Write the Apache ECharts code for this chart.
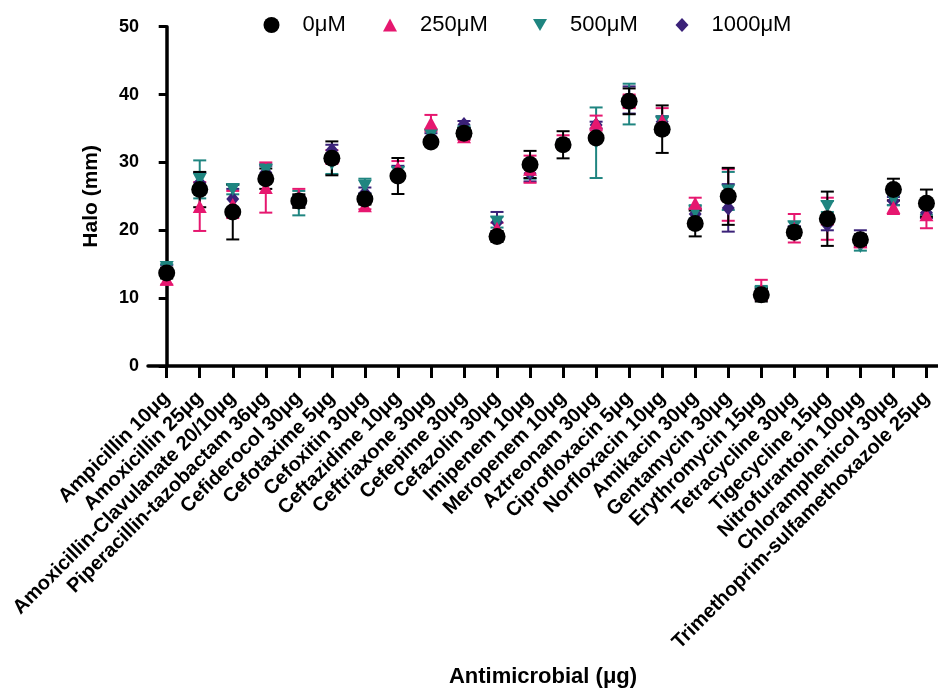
<!DOCTYPE html>
<html><head><meta charset="utf-8">
<script src="https://cdn.jsdelivr.net/npm/echarts@6/dist/echarts.min.js"></script>
<style>html,body{margin:0;padding:0;background:#fff}#c{width:938px;height:690px}</style>
</head><body><div id="c"></div>
<script>
const categories = ['Ampicillin 10μg','Amoxicillin 25μg','Amoxicillin-Clavulanate 20/10μg','Piperacillin-tazobactam 36μg','Cefiderocol 30μg','Cefotaxime 5μg','Cefoxitin 30μg','Ceftazidime 10μg','Ceftriaxone 30μg','Cefepime 30μg','Cefazolin 30μg','Imipenem 10μg','Meropenem 10μg','Aztreonam 30μg','Ciprofloxacin 5μg','Norfloxacin 10μg','Amikacin 30μg','Gentamycin 30μg','Erythromycin 15μg','Tetracycline 30μg','Tigecycline 15μg','Nitrofurantoin 100μg','Chloramphenicol 30μg','Trimethoprim-sulfamethoxazole 25μg'];
const seriesNames = ['0μM','250μM','500μM','1000μM'];
const mean0 = [13.7,26.0,22.7,27.6,24.3,30.6,24.6,28.0,33.0,34.3,19.1,29.7,32.6,33.6,39.0,34.9,21.0,25.0,10.5,19.7,21.7,18.6,26.0,24.0];
const sd0   = [0.8,2.6,4.05,1.5,1.0,2.5,0.8,2.65,0.6,0.8,0.8,2.0,2.0,0.5,1.9,3.5,1.9,4.2,1.0,0.8,4.0,0.8,1.6,2.0];
const mean250 = [12.8,23.5,23.8,26.3,25.0,30.8,23.6,29.2,35.8,33.8,20.3,29.0,33.0,35.8,39.0,36.2,24.0,25.2,11.2,20.3,21.7,18.3,23.4,22.3];
const sd250   = [0.8,3.6,2.0,3.7,1.1,1.0,0.5,1.0,1.2,0.5,0.8,2.0,1.0,1.1,1.0,1.8,0.8,3.8,1.5,2.1,3.1,0.8,1.0,2.0];
const mean500 = [14.5,27.5,26.0,28.8,24.0,29.8,26.5,28.5,34.0,34.5,21.2,28.6,32.5,32.9,38.6,35.8,22.7,25.8,10.8,20.5,23.5,17.6,24.5,23.3];
const sd500   = [0.5,2.8,0.7,1.0,1.8,1.5,1.1,0.8,0.8,0.5,0.8,1.0,0.5,5.2,3.0,1.0,1.0,2.8,1.0,0.8,0.8,0.6,0.8,1.0];
const mean1000 = [14.3,27.0,24.6,28.5,24.3,31.8,25.5,28.5,33.8,35.6,21.2,28.4,32.8,35.5,39.2,36.0,22.4,23.3,10.6,20.0,20.8,18.8,24.3,22.6];
const sd1000   = [0.6,1.5,1.5,1.0,0.8,0.8,0.8,1.0,0.5,0.5,1.5,1.2,0.6,0.5,2.0,0.8,0.8,3.5,0.8,0.6,0.8,1.2,0.6,0.8];
const yTicks = [0,10,20,30,40,50];

const FONT = '"Liberation Sans", Arial, Helvetica, sans-serif';
const colors = ['#000000','#e6176f','#1f8580','#3a2178'];
const symbols = ['circle','triangle','path://M0,0L20,0L10,17.3Z','diamond'];
const symSizes = [[17,17],[14,13],[14,13],[13,15]];
const legendSizes = [[16,16],[14,13],[14,13],[13,14]];
const means = [mean0, mean250, mean500, mean1000];
const sds = [sd0, sd250, sd500, sd1000];
const idx = categories.map((_, i) => i);

function errRender(color) {
  return function (params, api) {
    const x = api.value(0), m = api.value(1), s = api.value(2);
    const top = api.coord([x, m + s]);
    const bot = api.coord([x, m - s]);
    const hw = 6.5;
    const st = { stroke: color, lineWidth: 2, fill: null };
    return { type: 'group', children: [
      { type: 'line', shape: { x1: top[0], y1: top[1], x2: bot[0], y2: bot[1] }, style: st },
      { type: 'line', shape: { x1: top[0] - hw, y1: top[1], x2: top[0] + hw, y2: top[1] }, style: st },
      { type: 'line', shape: { x1: bot[0] - hw, y1: bot[1], x2: bot[0] + hw, y2: bot[1] }, style: st }
    ]};
  };
}

const series = [];
[3, 2, 1, 0].forEach(k => {
  series.push({
    type: 'custom', name: seriesNames[k] + ' SD', renderItem: errRender(colors[k]),
    encode: { x: 0, y: 1 }, clip: false, silent: true,
    data: idx.map(i => [i, means[k][i], sds[k][i]])
  });
  series.push({
    type: 'scatter', name: seriesNames[k], symbol: symbols[k], symbolSize: symSizes[k],
    itemStyle: { color: colors[k], opacity: 1 }, silent: true,
    data: idx.map(i => [i, means[k][i]])
  });
});

const legendLefts = [263.5, 383, 533, 675.5];
const legends = seriesNames.map((n, k) => ({
  data: [{ name: n, icon: symbols[k] }],
  left: legendLefts[k], top: 14, padding: 0, selectedMode: false,
  itemWidth: legendSizes[k][0], itemHeight: legendSizes[k][1],
  textStyle: { fontSize: 22, color: '#000', fontFamily: FONT, padding: [0, 0, 0, 18] }
}));

const chart = echarts.init(document.getElementById('c'), null, { renderer: 'canvas' });
chart.setOption({
  animation: false,
  backgroundColor: '#fff',
  grid: { left: 148, right: 0, top: 26.7, bottom: 324 },
  legend: legends,
  xAxis: {
    type: 'value', min: -0.566, max: 23.35,
    axisLine: { show: true, onZero: false, lineStyle: { color: '#000', width: 3.5 } },
    axisTick: { show: true, customValues: idx, length: 12, lineStyle: { color: '#000', width: 3 } },
    axisLabel: { customValues: idx, rotate: 45, formatter: v => categories[Math.round(v)],
      fontSize: 20, fontWeight: 'bold', color: '#000', fontFamily: FONT, margin: 29 },
    splitLine: { show: false },
    name: 'Antimicrobial (μg)', nameLocation: 'middle', nameGap: 300,
    nameTextStyle: { fontSize: 22, fontWeight: 'bold', color: '#000', fontFamily: FONT }
  },
  yAxis: {
    type: 'value', min: yTicks[0], max: yTicks[yTicks.length - 1], interval: 10,
    axisLine: { show: true, lineStyle: { color: '#000', width: 3.5 } },
    axisTick: { show: true, length: 8, lineStyle: { color: '#000', width: 3 } },
    axisLabel: { fontSize: 18, fontWeight: 'bold', color: '#000', fontFamily: FONT, margin: 9 },
    splitLine: { show: false },
    name: 'Halo (mm)', nameLocation: 'middle', nameGap: 46, nameRotate: 90,
    nameTextStyle: { fontSize: 21, fontWeight: 'bold', color: '#000', fontFamily: FONT }
  },
  series: series
});
</script></body></html>
